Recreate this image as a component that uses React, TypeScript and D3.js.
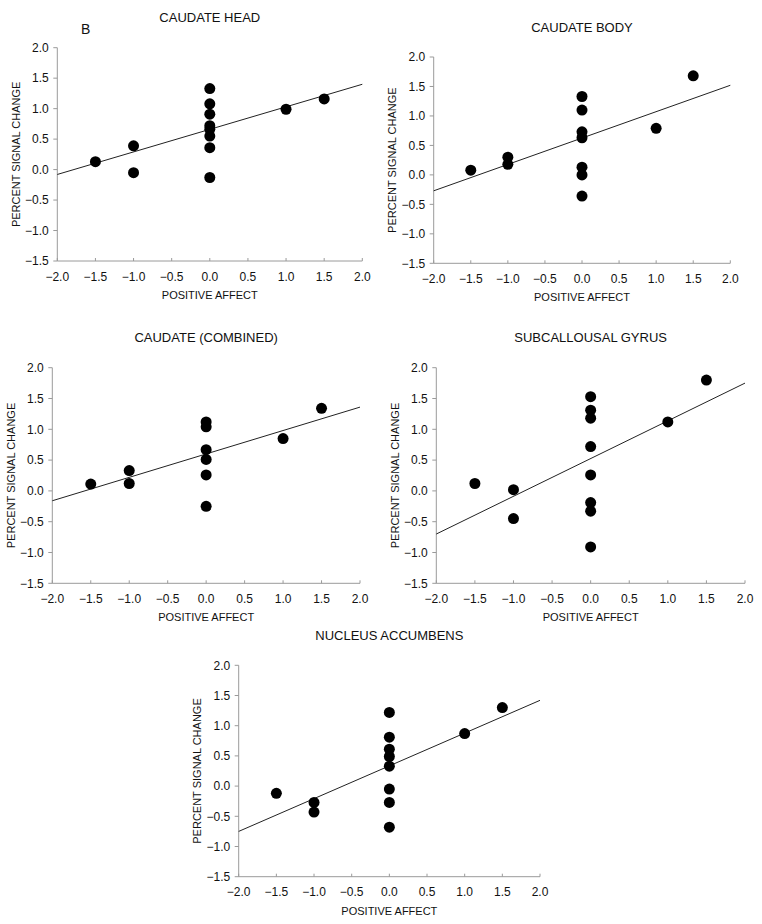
import React from "react";
import * as d3 from "d3";

// ---- Data ----
const xTicks = [-2.0, -1.5, -1.0, -0.5, 0.0, 0.5, 1.0, 1.5, 2.0];
const yTicks = [-1.5, -1.0, -0.5, 0.0, 0.5, 1.0, 1.5, 2.0];

const titles = ["CAUDATE HEAD", "CAUDATE BODY", "CAUDATE (COMBINED)", "SUBCALLOUSAL GYRUS", "NUCLEUS ACCUMBENS"];

const caudateHeadX = [-1.5, -1, -1, 0, 0, 0, 0, 0, 0, 0, 0, 1, 1.5];
const caudateHeadY = [0.13, 0.39, -0.05, 1.33, 1.08, 0.91, 0.72, 0.66, 0.55, 0.36, -0.13, 0.99, 1.16];

const caudateBodyX = [-1.5, -1, -1, 0, 0, 0, 0, 0, 0, 0, 1, 1.5];
const caudateBodyY = [0.08, 0.3, 0.18, 1.33, 1.1, 0.73, 0.63, 0.13, 0.0, -0.36, 0.79, 1.68];

const caudateCombX = [-1.5, -1, -1, 0, 0, 0, 0, 0, 0, 1, 1.5];
const caudateCombY = [0.11, 0.33, 0.12, 1.12, 1.04, 0.67, 0.51, 0.26, -0.25, 0.85, 1.34];

const subcallosalX = [-1.5, -1, -1, 0, 0, 0, 0, 0, 0, 0, 0, 1, 1.5];
const subcallosalY = [0.12, 0.02, -0.45, 1.53, 1.31, 1.18, 0.72, 0.26, -0.19, -0.33, -0.91, 1.12, 1.8];

const accumbensX = [-1.5, -1, -1, 0, 0, 0, 0, 0, 0, 0, 0, 1, 1.5];
const accumbensY = [-0.12, -0.27, -0.43, 1.22, 0.81, 0.61, 0.49, 0.33, -0.05, -0.27, -0.68, 0.87, 1.3];

// regression line values at x = -2 and x = 2
const fitAtMinus2 = [-0.08, -0.27, -0.16, -0.7, -0.75];
const fitAtPlus2 = [1.4, 1.52, 1.36, 1.75, 1.42];

const seriesX = [caudateHeadX, caudateBodyX, caudateCombX, subcallosalX, accumbensX];
const seriesY = [caudateHeadY, caudateBodyY, caudateCombY, subcallosalY, accumbensY];

// ---- Layout ----
const layout = [
  { x0: 57.3, x1: 362.3, y0: 47.7, y1: 261 },
  { x0: 433.7, x1: 730.3, y0: 57, y1: 263.3 },
  { x0: 52.3, x1: 360, y0: 367.7, y1: 583.3 },
  { x0: 436.3, x1: 745, y0: 367.7, y1: 583.3 },
  { x0: 238.7, x1: 540, y0: 665.3, y1: 876.7 },
];

const FONT = "Liberation Sans, Arial, Helvetica, sans-serif";
const AXIS_COLOR = "#9a9a9a";

function Panel({ i }: { i: number }) {
  const L = layout[i];
  const x = d3.scaleLinear().domain([-2, 2]).range([L.x0, L.x1]);
  const y = d3.scaleLinear().domain([-1.5, 2]).range([L.y1, L.y0]);
  const fmt = d3.format(".1f");
  const xs = seriesX[i];
  const ys = seriesY[i];
  const lineGen = d3
    .line<[number, number]>()
    .x((d) => x(d[0]))
    .y((d) => y(d[1]));
  const fitPath = lineGen([
    [-2, fitAtMinus2[i]],
    [2, fitAtPlus2[i]],
  ]);
  const cx = (L.x0 + L.x1) / 2;
  return (
    <g>
      <text x={cx} y={L.y0 - 25.5} textAnchor="middle" fontSize={13} fontFamily={FONT} fill="#111">
        {titles[i]}
      </text>
      {/* axes */}
      <line x1={L.x0} x2={L.x0} y1={L.y0} y2={L.y1} stroke={AXIS_COLOR} strokeWidth={1} />
      <line x1={L.x0} x2={L.x1} y1={L.y1} y2={L.y1} stroke={AXIS_COLOR} strokeWidth={1} />
      {yTicks.map((t) => (
        <g key={"y" + t}>
          <line x1={L.x0 - 4} x2={L.x0} y1={y(t)} y2={y(t)} stroke={AXIS_COLOR} strokeWidth={1} />
          <text x={L.x0 - 8.5} y={y(t) + 4.2} textAnchor="end" fontSize={12} fontFamily={FONT} fill="#111">
            {fmt(t)}
          </text>
        </g>
      ))}
      {xTicks.map((t) => (
        <g key={"x" + t}>
          <line x1={x(t)} x2={x(t)} y1={L.y1} y2={L.y1 - 3} stroke={AXIS_COLOR} strokeWidth={1} />
          <text x={x(t)} y={L.y1 + 19.5} textAnchor="middle" fontSize={12} fontFamily={FONT} fill="#111">
            {fmt(t)}
          </text>
        </g>
      ))}
      <text x={cx} y={L.y1 + 38} textAnchor="middle" fontSize={11} fontFamily={FONT} fill="#111">
        POSITIVE AFFECT
      </text>
      <text
        transform={`translate(${L.x0 - 37.5},${(L.y0 + L.y1) / 2}) rotate(-90)`}
        textAnchor="middle"
        fontSize={11}
        fontFamily={FONT}
        fill="#111"
      >
        PERCENT SIGNAL CHANGE
      </text>
      <path d={fitPath || ""} stroke="#222" strokeWidth={1} fill="none" />
      {xs.map((v, k) => (
        <circle key={k} cx={x(v)} cy={y(ys[k])} r={5.5} fill="#000" />
      ))}
    </g>
  );
}

export default function App() {
  return (
    <svg
      width={762}
      height={924}
      style={{ position: "absolute", left: 0, top: 0, background: "#fff" }}
    >
      <rect width={762} height={924} fill="#fff" />
      <text x={85.7} y={34} textAnchor="middle" fontSize={14} fontFamily={FONT} fill="#111">
        B
      </text>
      {[0, 1, 2, 3, 4].map((i) => (
        <Panel key={i} i={i} />
      ))}
    </svg>
  );
}
